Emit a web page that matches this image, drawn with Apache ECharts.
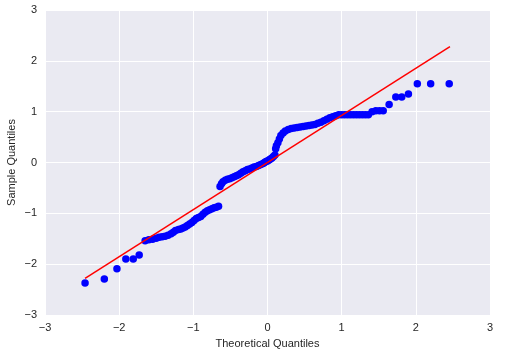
<!DOCTYPE html>
<html>
<head>
<meta charset="utf-8">
<script src="https://cdn.jsdelivr.net/npm/echarts@6/dist/echarts.min.js"></script>
<style>
  html, body { margin: 0; padding: 0; background: #fff; }
  #main { width: 521px; height: 352px; }
</style>
</head>
<body>
<div id="main"></div>
<script>
// sample quantiles: [theoretical, sample]
var tailLow = [[-2.46,-2.37],[-2.20,-2.29],[-2.03,-2.09],[-1.91,-1.90],[-1.81,-1.90],[-1.73,-1.82]];
var segA = [[-1.65,-1.54],[-1.60,-1.52],[-1.55,-1.51],[-1.50,-1.49],[-1.46,-1.47],[-1.42,-1.46],
    [-1.38,-1.45],[-1.34,-1.43],[-1.30,-1.40],[-1.27,-1.37],[-1.24,-1.34],[-1.20,-1.32],
    [-1.17,-1.31],[-1.14,-1.29],[-1.11,-1.27],[-1.08,-1.24],[-1.05,-1.21],[-1.02,-1.18],
    [-0.99,-1.14],[-0.96,-1.10],[-0.93,-1.08],[-0.90,-1.06],[-0.87,-1.02],[-0.84,-0.98],
    [-0.81,-0.95],[-0.78,-0.93],[-0.75,-0.91],[-0.72,-0.89],[-0.69,-0.88],[-0.66,-0.86]];
var segB = [[-0.64,-0.47],[-0.62,-0.42],[-0.60,-0.38],[-0.57,-0.35],[-0.54,-0.33],[-0.51,-0.32],
    [-0.48,-0.30],[-0.45,-0.28],[-0.42,-0.26],[-0.39,-0.24],[-0.36,-0.21],[-0.33,-0.18],
    [-0.30,-0.16],[-0.27,-0.14],[-0.24,-0.13],[-0.21,-0.11],[-0.18,-0.09],[-0.15,-0.08],
    [-0.12,-0.06],[-0.09,-0.04],[-0.06,-0.02],[-0.04,0.00],[-0.02,0.02],[0.00,0.03],
    [0.02,0.05],[0.04,0.07],[0.06,0.09],[0.08,0.12],[0.10,0.15]];
var segC = [[0.11,0.27],[0.12,0.33],[0.14,0.39],[0.16,0.46],[0.18,0.53],[0.21,0.58],[0.24,0.62],
    [0.28,0.65],[0.32,0.67],[0.36,0.68],[0.40,0.69],[0.44,0.70],[0.48,0.71],[0.52,0.72],
    [0.56,0.73],[0.60,0.74],[0.64,0.75],[0.68,0.77],[0.72,0.79],[0.76,0.82],[0.80,0.85],
    [0.84,0.88],[0.88,0.90],[0.92,0.92],[0.96,0.94],[1.00,0.94],[1.04,0.94],[1.08,0.94],
    [1.12,0.94],[1.16,0.94],[1.20,0.94],[1.24,0.94],[1.28,0.94],[1.32,0.94],[1.36,0.94]];
var tailHigh = [[1.41,1.00],[1.46,1.02],[1.51,1.02],[1.56,1.02],[1.64,1.14],[1.73,1.29],
    [1.81,1.29],[1.90,1.35],[2.02,1.55],[2.20,1.55],[2.45,1.55]];
var fitLine = [[-2.46,-2.28],[2.46,2.28]];
var ticks = [-3,-2,-1,0,1,2,3];

var points = tailLow.concat(segA, segB, segC, tailHigh);

function fmt(v){
    return v < 0 ? '\u2212' + Math.abs(v) : String(v);
}

var myChart = echarts.init(document.getElementById('main'), null, {renderer: 'canvas'});
var axisText = {color: '#262626', fontSize: 11, fontFamily: 'Liberation Sans, Arial, sans-serif'};

var option = {
    animation: false,
    grid: {
        left: 45, right: 31, top: 10, bottom: 37,
        containLabel: false,
        outerBoundsMode: 'none',
        show: true,
        backgroundColor: '#EAEAF2',
        borderWidth: 0
    },
    xAxis: {
        type: 'value',
        min: ticks[0], max: ticks[ticks.length - 1], interval: 1,
        name: 'Theoretical Quantiles',
        nameLocation: 'middle',
        nameGap: 23,
        nameMoveOverlap: false,
        nameTextStyle: axisText,
        axisLine: {show: false},
        axisTick: {show: false},
        axisLabel: Object.assign({margin: 7, formatter: fmt}, axisText),
        splitLine: {lineStyle: {color: '#ffffff', width: 1}}
    },
    yAxis: {
        type: 'value',
        min: ticks[0], max: ticks[ticks.length - 1], interval: 1,
        name: 'Sample Quantiles',
        nameLocation: 'middle',
        nameGap: 28,
        nameMoveOverlap: false,
        nameTextStyle: axisText,
        axisLine: {show: false},
        axisTick: {show: false},
        axisLabel: Object.assign({margin: 8, formatter: fmt}, axisText),
        splitLine: {lineStyle: {color: '#ffffff', width: 1}}
    },
    series: [
        {
            type: 'scatter',
            data: points,
            symbol: 'circle',
            symbolSize: 7.5,
            itemStyle: {color: '#0000ff', opacity: 1}
        },
        {
            type: 'line',
            data: fitLine,
            showSymbol: false,
            symbol: 'none',
            lineStyle: {color: '#ff0000', width: 1.5}
        }
    ]
};
myChart.setOption(option);
</script>
</body>
</html>
